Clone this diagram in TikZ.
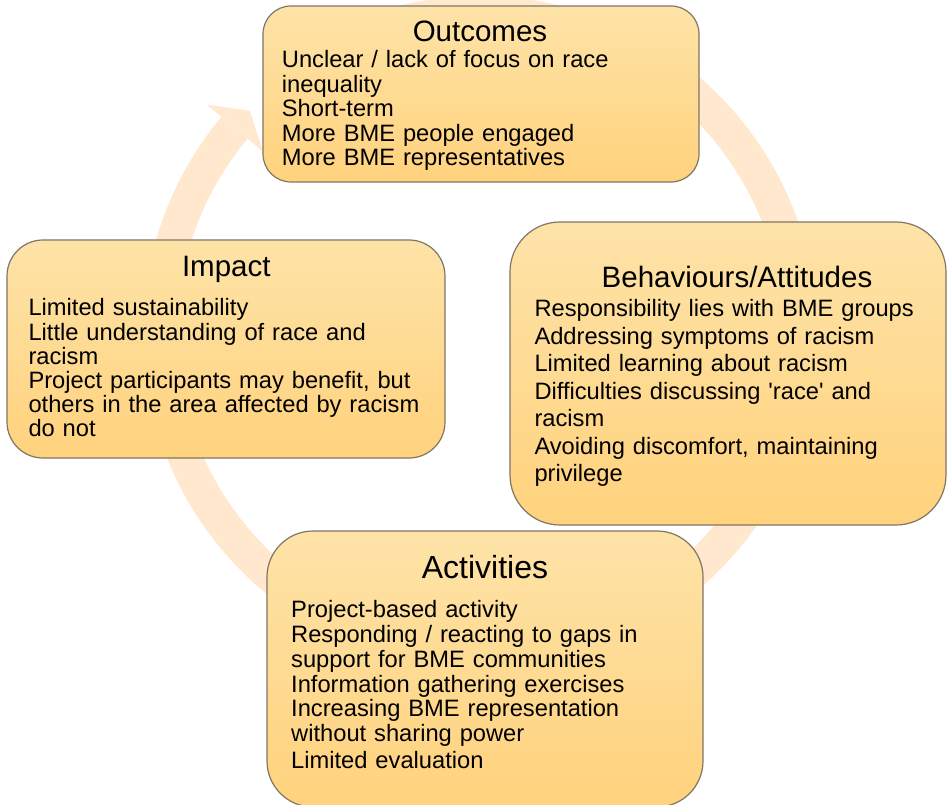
\documentclass[tikz,border=0pt]{standalone}
\usepackage{fontspec}
\setmainfont{Liberation Sans}[Ligatures=TeXOff]
\usetikzlibrary{calc}
\definecolor{ringcol}{RGB}{255,232,205}
\definecolor{boxtop}{RGB}{254,227,168}
\definecolor{boxbot}{RGB}{255,210,125}
\definecolor{boxline}{RGB}{128,118,100}
\begin{document}
\begin{tikzpicture}[x=1pt,y=-1pt,
  panel/.style={draw=boxline, line width=1.2pt, top color=boxtop, bottom color=boxbot, inner sep=0pt},
  heading/.style={anchor=base, font=\fontsize{29.5}{31}\selectfont, inner sep=0pt},
  itemlist/.style={anchor=base west, align=left, text width=420pt, inner sep=0pt,
    font=\fontsize{23.7}{#1}\selectfont},
]
\useasboundingbox (0,0) rectangle (948,805);

% continuous cycle ring with a single arrow head
\coordinate (C) at (480,333);
\draw[ringcol, line width=34pt] ($(C)+(232:320)$) arc[start angle=232, end angle=579.9, radius=320];
\coordinate (headA) at ($(C)+(219.9:283)$);
\coordinate (headT) at ($(C)+(224:320)$);
\coordinate (headB) at ($(C)+(219.9:356)$);
\fill[ringcol] (headA) -- (headT) -- (headB) -- cycle;

% panels
\node[panel, minimum width=436pt, minimum height=176pt, rounded corners=28pt] (outcomes) at (481,94) {};
\node[panel, minimum width=438pt, minimum height=218pt, rounded corners=36pt] (impact) at (226,349) {};
\node[panel, minimum width=436pt, minimum height=303pt, rounded corners=50pt] (behaviours) at (728,373.5) {};
\node[panel, minimum width=436pt, minimum height=276pt, rounded corners=46pt] (activities) at (485,669) {};

% headings
\node[heading] (outT) at (480,42) {Outcomes};
\node[heading] (impT) at (226.3,276.7) {Impact};
\node[heading] (behT) at (737,287.3) {Behaviours/Attitudes};
\node[heading, font=\fontsize{32}{33}\selectfont] (actT) at (485,578.3) {Activities};

% item lists
\node[itemlist=24.4] (outL) at (281.7,68) {Unclear / lack of focus on race\\inequality\\Short-term\\More BME people engaged\\More BME representatives};
\node[itemlist=24.2] (impL) at (28.3,316) {Limited sustainability\\Little understanding of race and\\racism\\Project participants may benefit, but\\others in the area affected by racism\\do not};
\node[itemlist=27.5] (behL) at (534.3,316.7) {Responsibility lies with BME groups\\Addressing symptoms of racism\\Limited learning about racism\\Difficulties discussing 'race' and\\racism\\Avoiding discomfort, maintaining\\privilege};
\node[itemlist=24.8] (actL) at (291,617.7) {Project-based activity\\Responding / reacting to gaps in\\support for BME communities\\Information gathering exercises\\Increasing BME representation\\without sharing power\\[2pt]Limited evaluation};
\end{tikzpicture}
\end{document}
